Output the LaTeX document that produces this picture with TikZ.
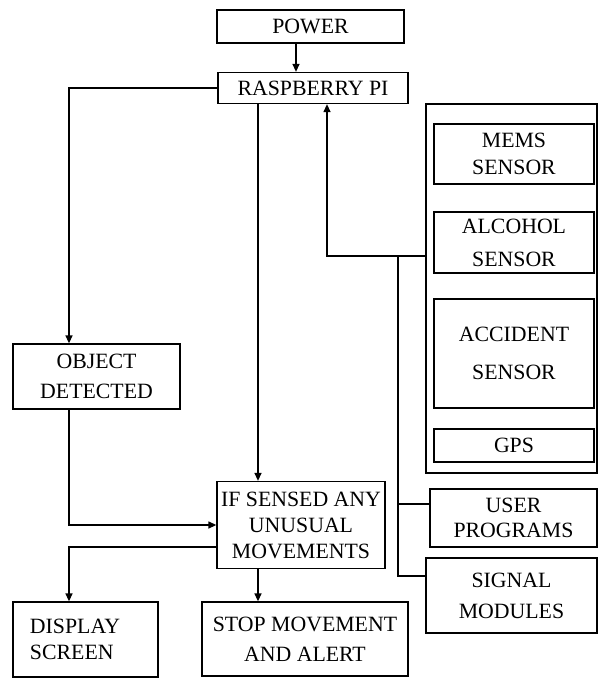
\documentclass[tikz,border=0pt]{standalone}
\usepackage{fontspec}
\setmainfont{Liberation Serif}
\usetikzlibrary{arrows.meta}
\newcommand{\fs}[1]{\fontsize{21.8}{#1}\selectfont}
\begin{document}
\begin{tikzpicture}[x=1pt,y=-1pt,
  box/.style={draw, line width=1.3pt, inner sep=0pt, align=center, font=\fs{25}},
  conn/.style={line width=1.3pt},
  arr/.style={conn, -{Triangle[length=8pt,width=7pt]}}]
\useasboundingbox (0,0) rectangle (598,678);
% boxes
\node[box, minimum width=187pt, minimum height=33pt] (power) at (310.5,26.5) {POWER};
\node[box, minimum width=190pt, minimum height=31pt] (rasp) at (313,88) {RASPBERRY PI};
\node[box, minimum width=167pt, minimum height=65pt, font=\fs{30}] (obj) at (96.5,376.5) {OBJECT\\DETECTED};
\node[box, minimum width=168pt, minimum height=87pt, font=\fs{26}] (ifs) at (301,525) {IF SENSED ANY\\UNUSUAL\\MOVEMENTS};
\node[box, text width=111pt, inner xsep=17pt, minimum height=75pt, align=left, font=\fs{26}] (disp) at (85.5,639.5) {DISPLAY\\SCREEN};
\node[box, minimum width=206pt, minimum height=74pt, font=\fs{30}] (stop) at (305,639) {STOP MOVEMENT\\AND ALERT};
\node[box, minimum width=171pt, minimum height=369pt] (grp) at (511.5,288.5) {};
\node[box, minimum width=160pt, minimum height=60pt, font=\fs{27}] (mems) at (514,154) {MEMS\\SENSOR};
\node[box, minimum width=160pt, minimum height=61pt, font=\fs{33}] (alc) at (514,242.5) {ALCOHOL\\SENSOR};
\node[box, minimum width=160pt, minimum height=109pt, font=\fs{38}] (acc) at (514,353.5) {ACCIDENT\\SENSOR};
\node[box, minimum width=160pt, minimum height=33pt] (gps) at (514,445.5) {GPS};
\node[box, minimum width=167pt, minimum height=58pt, font=\fs{25}] (user) at (513.5,518) {USER\\PROGRAMS};
\node[box, minimum width=171pt, minimum height=75pt, font=\fs{31}] (sig) at (511.5,595.5) {SIGNAL\\MODULES};
% helper coordinates
\coordinate (c296) at (296,0);
\coordinate (c69) at (69,0);
\coordinate (c258) at (258,0);
\coordinate (c327) at (327,0);
\coordinate (y547) at (0,547);
\coordinate (y504) at (0,504);
\coordinate (y576) at (0,576);
\coordinate (bus) at (398,256);
% connectors
\draw[arr] (power.south -| c296) -- (rasp.north -| c296);
\draw[arr] (rasp.west) -| (obj.north -| c69);
\draw[arr] (rasp.south -| c258) -- (ifs.north -| c258);
\draw[arr] (obj.south -| c69) |- (ifs.west);
\draw[arr] (ifs.west |- y547) -| (disp.north -| c69);
\draw[arr] (ifs.south -| c258) -- (stop.north -| c258);
\draw[arr] (grp.west |- bus) -| (rasp.south -| c327);
\draw[conn] (bus) |- (sig.west |- y576);
\draw[conn] (bus |- y504) -- (user.west |- y504);
\end{tikzpicture}
\end{document}
